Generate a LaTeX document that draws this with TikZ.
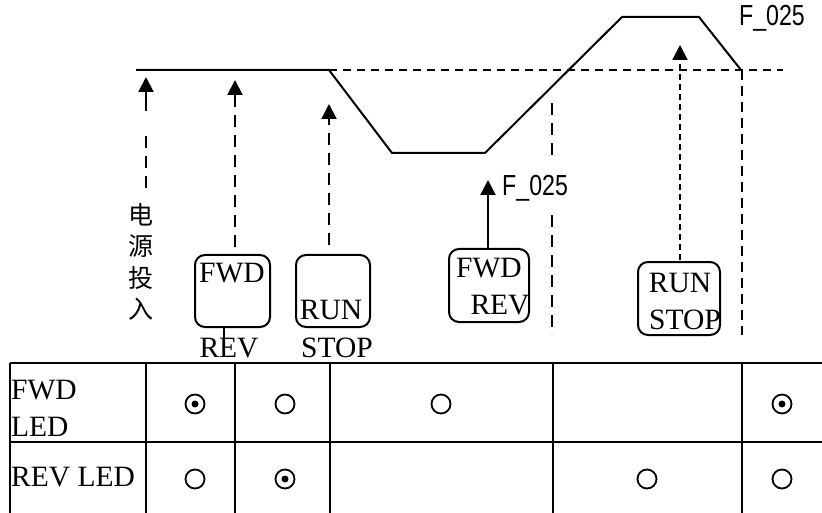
\documentclass[tikz,border=0pt]{standalone}
\usepackage{fontspec}
\setmainfont{Liberation Serif}
\newfontfamily\narrowsans[FakeStretch=0.8]{Liberation Sans}
\newfontfamily\cjk{Noto Sans CJK SC}
\usetikzlibrary{arrows.meta}

\begin{document}
\begin{tikzpicture}[x=1pt, y=-1pt,
  every node/.style={inner sep=0pt, font=\fontsize{29.5}{37}\selectfont},
  wave/.style={line width=2pt, line join=miter},
  guide/.style={line width=2pt, dash pattern=on 12pt off 8pt},
  fineguide/.style={line width=2pt, dash pattern=on 6pt off 4pt},
  uparrow/.style={line width=2pt, -{Triangle[length=15pt,width=15pt]}},
  keybox/.style={draw, line width=2pt, rounded corners=10pt},
  grid/.style={line width=2pt},
  ledoff/.style={circle, draw, line width=1.8pt, minimum size=19pt},
  ledon/.style={ledoff, path picture={\fill (path picture bounding box.center) circle (3.5pt);}},
  fval/.style={font=\narrowsans\fontsize{29}{32}\selectfont}]
  \useasboundingbox (0,0) rectangle (822,513);

  % output frequency
  \draw[wave] (136,70) -- (329,70) -- (392,153) -- (485,153) -- (622,17) -- (699,17) -- (741,70);
  \draw[line width=2pt, dash pattern=on 8pt off 6pt] (329,70) -- (783,70);
  \node[fval] (ftop) at (772,18) {F\_025};

  % keys
  \node[keybox, minimum width=75pt, minimum height=72pt] (fwdrev) at (232.5,291) {};
  \node[keybox, minimum width=74pt, minimum height=72pt] (runstop) at (333,291) {};
  \node[keybox, minimum width=80pt, minimum height=73pt] (fwdrev2) at (489,285.5) {};
  \node[keybox, minimum width=82pt, minimum height=73pt] (runstop2) at (679,298.5) {};
  \node (fwd1) at (232,273) {FWD};
  \node (rev1) at (229,348) {REV};
  \node (run1) at (331,310) {RUN};
  \node (stop1) at (337,348) {STOP};
  \node (fwd2) at (489,268) {FWD};
  \node (rev2) at (500,305) {REV};
  \node (run2) at (680,283) {RUN};
  \node (stop2) at (685,320) {STOP};
  \draw[line width=1.2pt] (224,327) -- (224,356);

  % power on
  \node[font=\cjk\fontsize{25}{31.5}\selectfont, align=center, anchor=north] (power) at (141,203) {电\\源\\投\\入};
  \coordinate (tip1) at (146,77);
  \draw[guide] (146,188) -- (146,130);
  \draw[uparrow] (146,111) -- (tip1);

  \coordinate (tip2) at (235,80);
  \coordinate (tip3) at (329,104);
  \coordinate (tip4) at (488,180);
  \coordinate (tip5) at (680,45);
  \draw[uparrow, guide] (235,247) -- (tip2);
  \draw[uparrow, guide] (329,245) -- (tip3);
  \draw[uparrow] (fwdrev2.north -| tip4) -- (tip4);
  \draw[uparrow, fineguide] (680,260) -- (tip5);
  \node[fval, anchor=west] (fmid) at (502,188) {F\_025};
  \draw[guide] (552,103) -- (552,160);
  \draw[guide] (552,215) -- (552,335);
  \draw[line width=2pt, dash pattern=on 10pt off 6pt] (742,70) -- (742,335);

  % LED table
  \draw[grid] (10,363) -- (822,363);
  \draw[grid] (10,442) -- (822,442);
  \foreach \x in {10,146,235,330,553,742}
    \draw[grid] (\x,363) -- (\x,513);
  \node[anchor=west] (fwdled) at (11,390) {FWD};
  \node[anchor=west] (fwdled2) at (11,427) {LED};
  \node[anchor=west] (revled) at (11,477) {REV LED};
  \node[ledon] (f1) at (195,404) {};
  \node[ledoff] (f2) at (285,404) {};
  \node[ledoff] (f3) at (441,404) {};
  \node[ledon] (f4) at (782,404) {};
  \node[ledoff] (r1) at (195,479) {};
  \node[ledon] (r2) at (285,479) {};
  \node[ledoff] (r3) at (647,479) {};
  \node[ledoff] (r4) at (782,479) {};
\end{tikzpicture}
\end{document}
